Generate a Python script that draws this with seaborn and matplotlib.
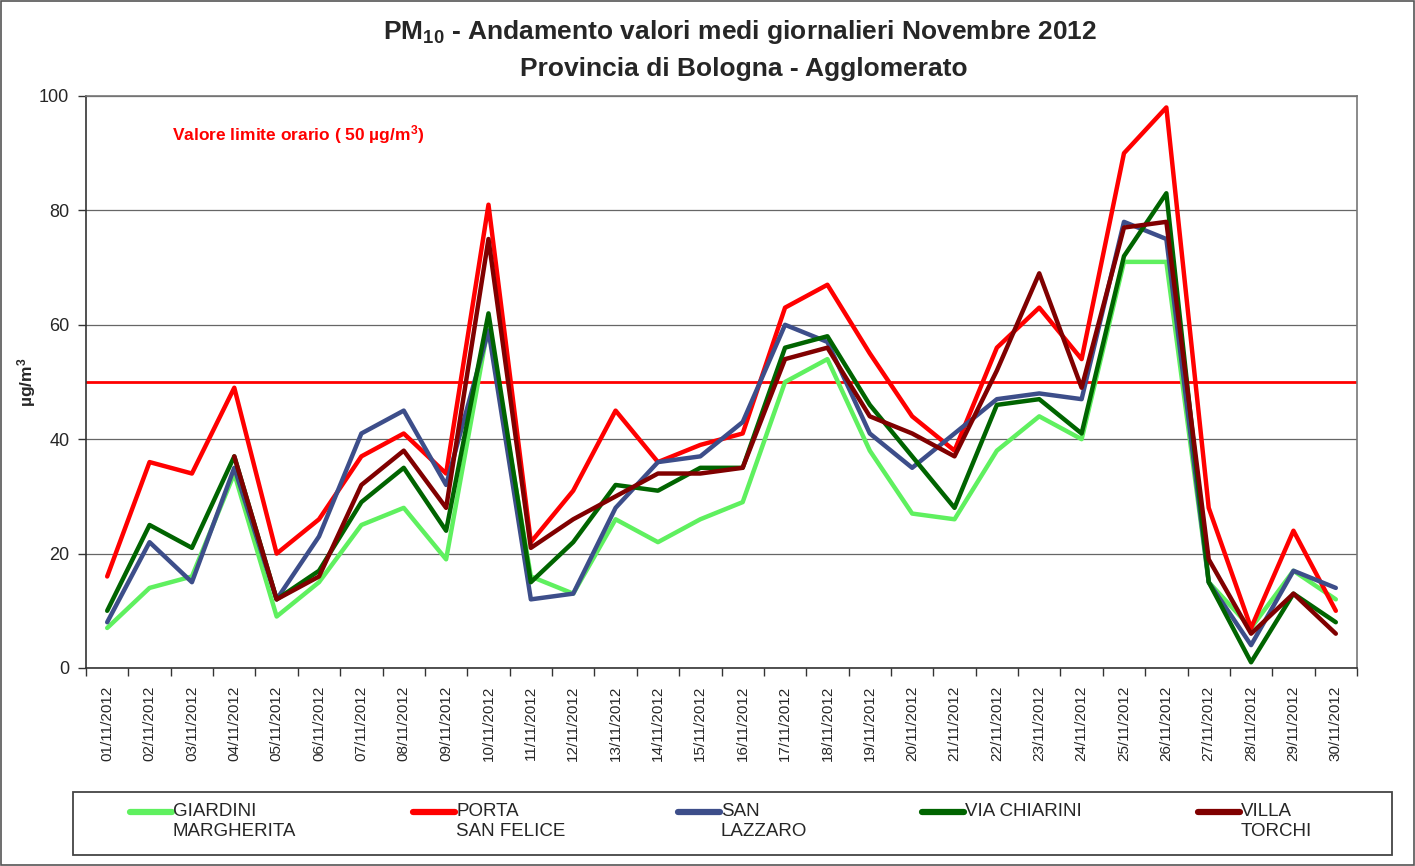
import numpy as np
import pandas as pd
import matplotlib
matplotlib.use("Agg")
import matplotlib.pyplot as plt
import seaborn as sns
from matplotlib.patches import Rectangle
from matplotlib.lines import Line2D

dates = [f"{d:02d}/11/2012" for d in range(1, 31)]

giardini = [7, 14, 16, 34, 9, 15, 25, 28, 19, 60, 16, 13, 26, 22, 26, 29, 50, 54, 38, 27,
            26, 38, 44, 40, 71, 71, 15, 7, 17, 12]
porta = [16, 36, 34, 49, 20, 26, 37, 41, 34, 81, 22, 31, 45, 36, 39, 41, 63, 67, 55, 44,
         38, 56, 63, 54, 90, 98, 28, 7, 24, 10]
san_lazzaro = [8, 22, 15, 35, 12, 23, 41, 45, 32, 59, 12, 13, 28, 36, 37, 43, 60, 57, 41, 35,
               41, 47, 48, 47, 78, 75, 15, 4, 17, 14]
via_chiarini = [10, 25, 21, 37, 12, 17, 29, 35, 24, 62, 15, 22, 32, 31, 35, 35, 56, 58, 46, 37,
                28, 46, 47, 41, 72, 83, 15, 1, 13, 8]
villa_torchi = [np.nan, np.nan, np.nan, 37, 12, 16, 32, 38, 28, 75, 21, 26, 30, 34, 34, 35, 54, 56, 44, 41,
                37, 52, 69, 49, 77, 78, 19, 6, 13, 6]

series_names = ["GIARDINI\nMARGHERITA", "PORTA\nSAN FELICE", "SAN\nLAZZARO", "VIA CHIARINI", "VILLA\nTORCHI"]
series_values = [giardini, porta, san_lazzaro, via_chiarini, villa_torchi]
colors = ["#5FF05F", "#FF0000", "#3D4E8A", "#006400", "#800000"]
limit_value = 50

rows = []
for name, vals in zip(series_names, series_values):
    for i, v in enumerate(vals):
        rows.append({"idx": i, "value": v, "station": name})
df = pd.DataFrame(rows)

sns.set_style("white")
plt.rcParams['font.family'] = ['Liberation Sans', 'DejaVu Sans']
plt.rcParams['mathtext.default'] = 'regular'

W, H = 1415, 866
fig = plt.figure(figsize=(W / 100, H / 100), dpi=100)
ax = fig.add_axes([86/W, 1-668/H, (1357-86)/W, (668-96)/H])

sns.lineplot(data=df, x="idx", y="value", hue="station", palette=dict(zip(series_names, colors)),
             hue_order=series_names, linewidth=3.2, ax=ax, legend=False, sort=False)

ax.axhline(limit_value, color="#FF0000", linewidth=2, zorder=1)

ax.set_xlim(-0.5, 29.5)
ax.set_ylim(0, 100)
ax.set_yticks(np.arange(0, 101, 20))
ax.tick_params(axis='y', labelsize=13, length=6, width=1, color="#333333", direction='out', left=True, pad=6)
ax.yaxis.grid(True, color="#666666", linewidth=0.9)
ax.set_axisbelow(True)

ax.set_xticks(np.arange(-0.5, 30, 1))
ax.set_xticklabels([])
ax.set_xticks(np.arange(30), minor=True)
ax.set_xticklabels(dates, minor=True, rotation=90, fontsize=11)
ax.tick_params(axis='x', which='major', length=6, width=1, color="#333333", bottom=True)
ax.tick_params(axis='x', which='minor', length=0, pad=13)

for s in ax.spines.values():
    s.set_color("#777777")
    s.set_linewidth(1.2)
ax.spines['left'].set_color("#333333")
ax.spines['bottom'].set_color("#333333")

ax.set_xlabel("")
ax.set_ylabel("µg/m$^3$", fontsize=12.5, fontweight='bold')
ax.yaxis.set_label_coords((38 - 86) / (1357 - 86), 0.5)

ax.text(0.068, 0.932, "Valore limite orario ( 50 µg/m$^3$)", transform=ax.transAxes,
        color="#FF0000", fontsize=12.5, fontweight='bold', ha='left', va='center')

fig.text(740/W, 1-32/H, "PM$_{10}$ - Andamento valori medi giornalieri Novembre 2012",
         ha='center', va='center', fontsize=19, fontweight='bold')
fig.text(744/W, 1-69/H, "Provincia di Bologna - Agglomerato",
         ha='center', va='center', fontsize=19, fontweight='bold')

# legend box drawn manually for exact placement
fig.patches.append(Rectangle((73/W, 1-855/H), (1392-73)/W, (855-792)/H, transform=fig.transFigure,
                             fill=False, edgecolor="#444444", linewidth=1.3))
handle_x = [130, 413, 678, 922, 1198]
for hx, name, c in zip(handle_x, series_names, colors):
    fig.add_artist(Line2D([hx/W, (hx+42)/W], [1-812/H, 1-812/H], transform=fig.transFigure,
                          color=c, linewidth=4.5, solid_capstyle='round'))
    fig.text((hx+43)/W, 1-803/H, name, transform=fig.transFigure, ha='left', va='top',
             fontsize=13.5, linespacing=1.25)

fig.patches.append(Rectangle((0.001, 0.001), 0.998, 0.998, transform=fig.transFigure,
                             fill=False, edgecolor="#555555", linewidth=1.2))

fig.savefig("out.png", dpi=100)
